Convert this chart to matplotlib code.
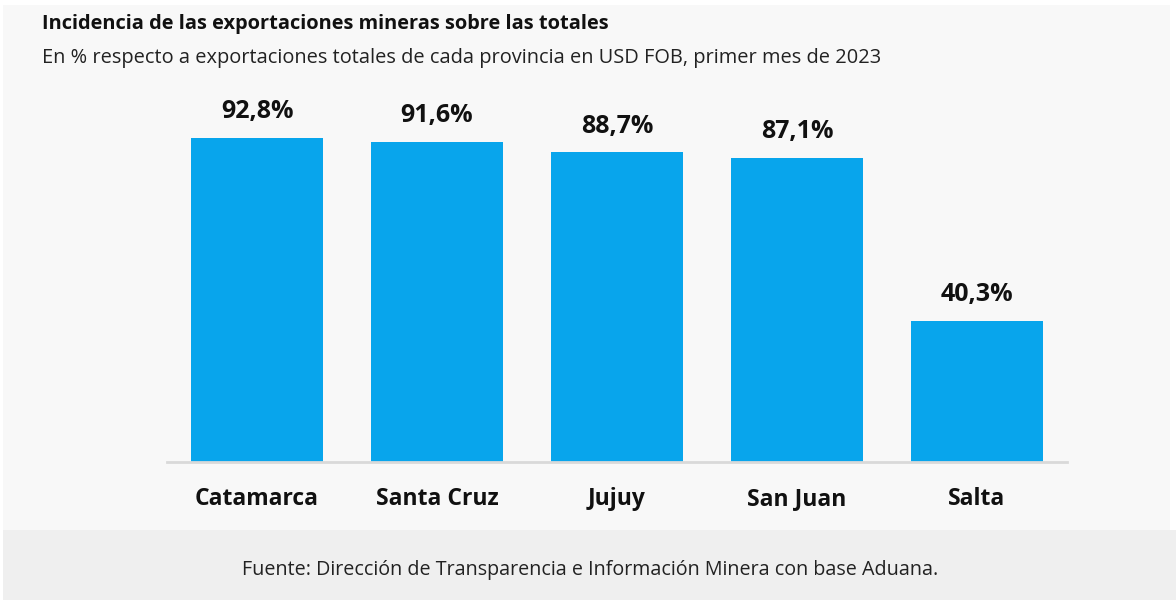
import matplotlib.pyplot as plt
from matplotlib.patches import Rectangle

provincias = ["Catamarca", "Santa Cruz", "Jujuy", "San Juan", "Salta"]
valores = [92.8, 91.6, 88.7, 87.1, 40.3]
etiquetas = ["92,8%", "91,6%", "88,7%", "87,1%", "40,3%"]

titulo = "Incidencia de las exportaciones mineras sobre las totales"
subtitulo = "En % respecto a exportaciones totales de cada provincia en USD FOB, primer mes de 2023"
fuente = "Fuente: Dirección de Transparencia e Información Minera con base Aduana."

plt.rcParams['font.family'] = ['Open Sans', 'DejaVu Sans']

W, H = 1176, 600
fig = plt.figure(figsize=(W / 100, H / 100), dpi=100)
fig.patch.set_facecolor("white")

# fondos
fig.add_artist(Rectangle((3 / W, (H - 530) / H), 1167 / W, 525 / H,
                         transform=fig.transFigure, facecolor="#f8f8f8",
                         edgecolor="none", zorder=0))
fig.add_artist(Rectangle((3 / W, 0), 1173 / W, (H - 530) / H,
                         transform=fig.transFigure, facecolor="#efefef",
                         edgecolor="none", zorder=0))

ax = fig.add_axes([167 / W, (H - 462) / H, 900 / W, 349 / H])
ax.set_facecolor("none")
x = range(len(provincias))
bars = ax.bar(x, valores, width=0.73, color="#08a5ec", zorder=2)
ax.set_xlim(-0.5, len(provincias) - 0.5)
ax.set_ylim(0, 100)

for b, t in zip(bars, etiquetas):
    ax.annotate(t, (b.get_x() + b.get_width() / 2, b.get_height()),
                xytext=(0, 10), textcoords="offset points", ha="center",
                va="bottom", fontsize=18, fontweight="bold", color="#111111")

ax.set_xticks(list(x))
ax.set_xticklabels(provincias, fontsize=16.5, fontweight="bold", color="#111111")
ax.tick_params(axis="x", length=0, pad=18)
ax.set_yticks([])
for s in ["top", "right", "left"]:
    ax.spines[s].set_visible(False)
ax.spines["bottom"].set_color("#d9d9d9")
ax.spines["bottom"].set_linewidth(2)

fig.text(42 / W, 1 - 24 / H, titulo, fontsize=14.4, fontweight="bold",
         color="#111111", va="center")
fig.text(42 / W, 1 - 58 / H, subtitulo, fontsize=14.4, color="#222222", va="center")
fig.text(590 / W, 1 - 570 / H, fuente, fontsize=14.2, color="#222222",
         ha="center", va="center")

fig.savefig("out.png", dpi=100)
